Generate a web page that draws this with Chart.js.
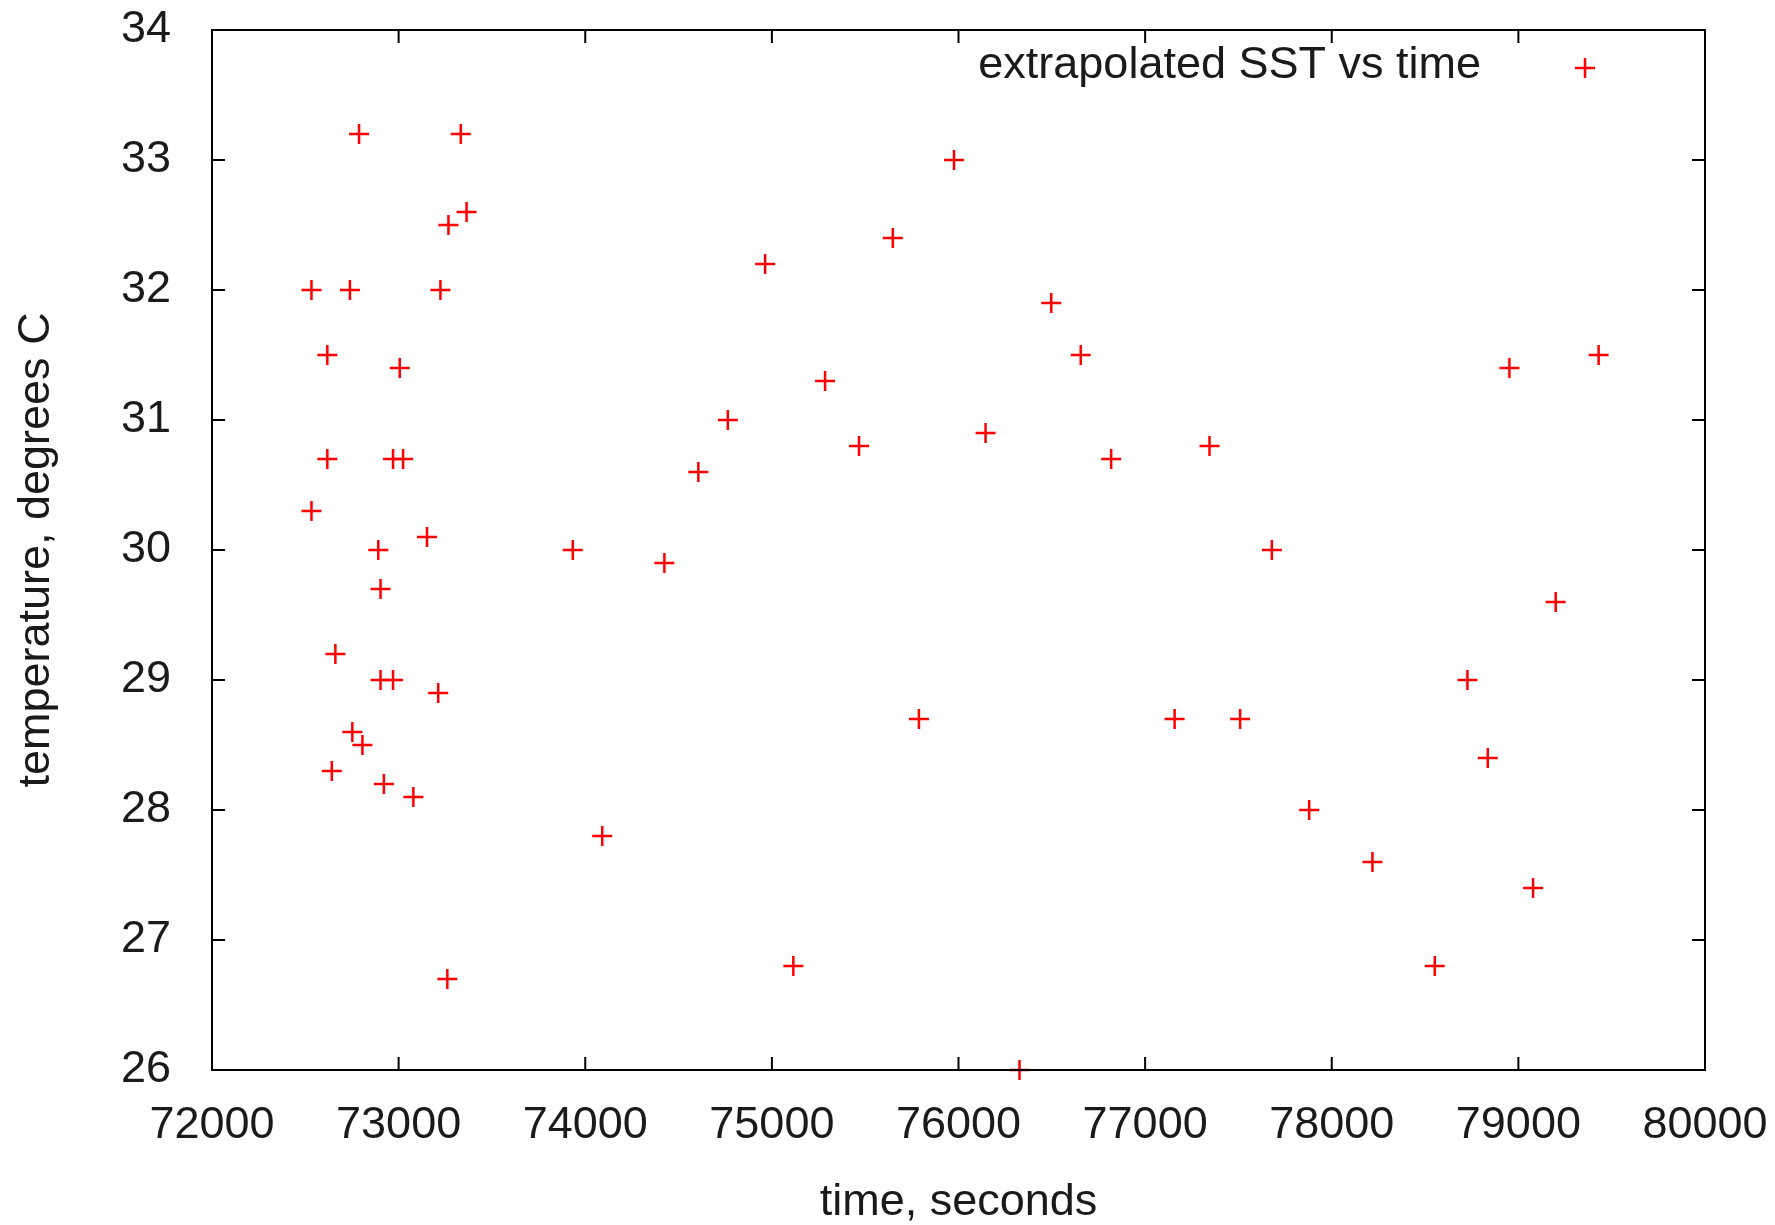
<!doctype html>
<html lang="en">
<head>
<meta charset="UTF-8">
<title>extrapolated SST vs time</title>
<script src="https://cdn.jsdelivr.net/npm/chart.js"></script>
<style>
  html, body { margin: 0; padding: 0; background: #fff; }
</style>
</head>
<body>
<canvas id="chart" width="1775" height="1225"></canvas>
<script>
// time (s) and extrapolated SST (deg C)
const times = [
  72533, 72739, 72788, 73333, 73267, 73364, 73224, 72618, 73006, 72618,
  72970, 73024, 72533, 73152, 72891, 72903, 72661, 72903, 72970, 73212,
  72752, 72806, 72642, 72921, 73079, 73261, 73933, 74091, 74424, 74606,
  74764, 74964, 75115, 75285, 75467, 75648, 75788, 75976, 76145, 76327,
  76497, 76655, 76818, 77158, 77345, 77509, 77679, 77879, 78218, 78552,
  78727, 78836, 78952, 79079, 79200, 79430
];
const temps = [
  32.0, 32.0, 33.2, 33.2, 32.5, 32.6, 32.0, 31.5, 31.4, 30.7,
  30.7, 30.7, 30.3, 30.1, 30.0, 29.7, 29.2, 29.0, 29.0, 28.9,
  28.6, 28.5, 28.3, 28.2, 28.1, 26.7, 30.0, 27.8, 29.9, 30.6,
  31.0, 32.2, 26.8, 31.3, 30.8, 32.4, 28.7, 33.0, 30.9, 26.0,
  31.9, 31.5, 30.7, 28.7, 30.8, 28.7, 30.0, 28.0, 27.6, 26.8,
  29.0, 28.4, 31.4, 27.4, 29.6, 31.5
];
const xTicks = [72000, 73000, 74000, 75000, 76000, 77000, 78000, 79000, 80000];
const yTicks = [26, 27, 28, 29, 30, 31, 32, 33, 34];

const FONT = "'Liberation Sans', Arial, sans-serif";

// gnuplot style frame: border plus inward ticks on all four sides
const framePlugin = {
  id: 'frame',
  afterDraw(chart) {
    const { ctx, chartArea: a, scales } = chart;
    const len = 13;
    ctx.save();
    ctx.strokeStyle = '#000';
    ctx.lineWidth = 2;
    ctx.beginPath();
    scales.x.ticks.forEach(t => {
      const px = scales.x.getPixelForValue(t.value);
      ctx.moveTo(px, a.bottom); ctx.lineTo(px, a.bottom - len);
      ctx.moveTo(px, a.top); ctx.lineTo(px, a.top + len);
    });
    scales.y.ticks.forEach(t => {
      const py = scales.y.getPixelForValue(t.value);
      ctx.moveTo(a.left, py); ctx.lineTo(a.left + len, py);
      ctx.moveTo(a.right, py); ctx.lineTo(a.right - len, py);
    });
    ctx.stroke();
    ctx.strokeRect(a.left, a.top, a.right - a.left, a.bottom - a.top);
    ctx.restore();
  }
};

// key in the top right corner: text, then sample marker
const keyPlugin = {
  id: 'key',
  afterDraw(chart) {
    const { ctx, chartArea: a } = chart;
    const ds = chart.data.datasets[0];
    const mx = a.right - 120, my = a.top + 38, r = ds.pointRadius;
    ctx.save();
    ctx.font = '45px ' + FONT;
    ctx.fillStyle = '#1a1a1a';
    ctx.textAlign = 'right';
    ctx.textBaseline = 'middle';
    ctx.fillText(ds.label, mx - 104, my - 2);
    ctx.strokeStyle = ds.borderColor;
    ctx.lineWidth = ds.borderWidth;
    ctx.beginPath();
    ctx.moveTo(mx - r, my); ctx.lineTo(mx + r, my);
    ctx.moveTo(mx, my - r); ctx.lineTo(mx, my + r);
    ctx.stroke();
    ctx.restore();
  }
};

new Chart(document.getElementById('chart').getContext('2d'), {
  type: 'scatter',
  data: {
    datasets: [{
      label: 'extrapolated SST vs time',
      data: times.map((t, i) => ({ x: t, y: temps[i] })),
      pointStyle: 'cross',
      pointRadius: 10,
      pointHoverRadius: 10,
      borderColor: '#ff0000',
      backgroundColor: '#ff0000',
      borderWidth: 2.5,
      clip: false
    }]
  },
  options: {
    responsive: false,
    animation: false,
    devicePixelRatio: 1,
    events: [],
    layout: { padding: { top: 30, right: 70, left: 0, bottom: 0 } },
    plugins: { legend: { display: false }, tooltip: { enabled: false } },
    scales: {
      x: {
        type: 'linear',
        min: 72000,
        max: 80000,
        afterBuildTicks: s => { s.ticks = xTicks.map(v => ({ value: v })); },
        afterFit: s => { s.height = 155; s.paddingLeft = 0; s.paddingRight = 0; },
        grid: { display: false },
        border: { display: false },
        ticks: {
          padding: 21,
          color: '#1a1a1a',
          font: { family: FONT, size: 45 },
          maxRotation: 0,
          autoSkip: false,
          callback: v => String(v)
        },
        title: {
          display: true,
          text: 'time, seconds',
          color: '#1a1a1a',
          font: { family: FONT, size: 45, lineHeight: 1.0 },
          padding: { top: 0, bottom: 0 }
        }
      },
      y: {
        type: 'linear',
        min: 26,
        max: 34,
        afterBuildTicks: s => { s.ticks = yTicks.map(v => ({ value: v })); },
        afterFit: s => { s.width = 212; s.paddingTop = 0; s.paddingBottom = 0; },
        grid: { display: false },
        border: { display: false },
        ticks: {
          padding: 33,
          color: '#1a1a1a',
          font: { family: FONT, size: 45 },
          autoSkip: false,
          callback: v => String(v)
        },
        title: {
          display: true,
          text: 'temperature, degrees C',
          color: '#1a1a1a',
          font: { family: FONT, size: 45 },
          padding: { top: 10, bottom: 0 }
        }
      }
    }
  },
  plugins: [framePlugin, keyPlugin]
});
</script>
</body>
</html>
